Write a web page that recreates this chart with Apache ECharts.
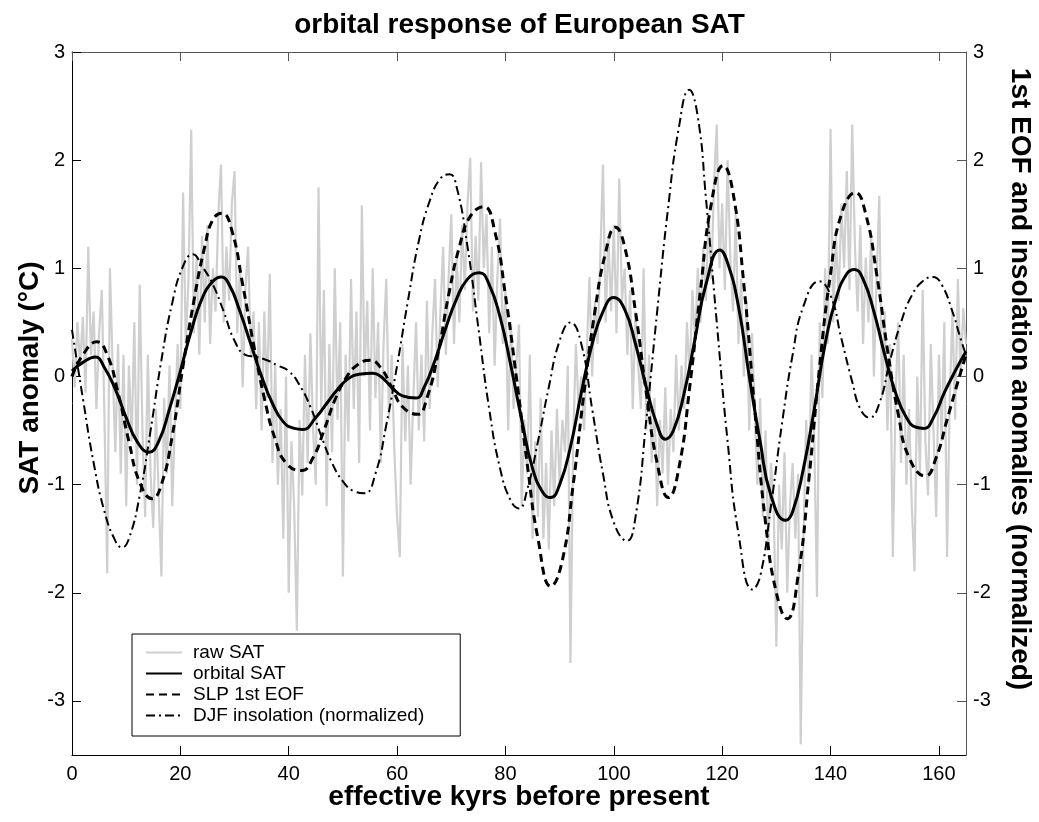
<!DOCTYPE html>
<html><head><meta charset="utf-8">
<script src="https://cdn.jsdelivr.net/npm/echarts@6/dist/echarts.min.js"></script>
<style>html,body{margin:0;padding:0;background:#fff}#c{width:1039px;height:822px}</style>
</head><body><div id="c"></div>
<script>
const xTicks = [0, 20, 40, 60, 80, 100, 120, 140, 160];
const yTicks = [-3, -2, -1, 0, 1, 2, 3];
const rawStep = 0.5; // kyr between raw samples, starting at 0
const rawSAT = [
 0.35,-0.1,0.5,0.1,0.55,-0.15,1.2,0.2,0.6,-0.3,
 0.4,0.8,-0.4,-1.82,1.0,0.1,-0.7,0.3,-0.9,0.2,
 -1.2,0.1,-0.6,0.5,-1.0,0.85,-0.5,-1.3,0.2,-0.9,
 -1.4,-0.3,-1.1,-1.85,-0.2,-0.9,0.1,-1.2,-0.4,0.3,
 -0.3,1.7,0.3,0.9,2.28,0.4,1.1,0.2,1.3,0.5,
 1.4,0.3,1.0,0.6,1.5,1.96,0.5,1.2,0.7,1.6,
 1.9,0.4,1.0,-0.1,0.8,1.2,0.2,0.6,-0.3,0.5,
 -0.5,0.6,-0.2,0.95,-0.8,0.1,-1.0,-0.3,-1.5,0.0,
 -2.0,-0.6,-1.2,-2.35,-0.4,-1.1,0.2,-0.8,0.4,-0.5,
 -1.0,1.75,-0.3,0.8,-1.2,0.3,-0.7,1.0,-0.4,0.5,
 -1.85,0.2,-0.6,0.9,-0.3,0.6,-0.8,1.58,0.0,0.7,
 -0.5,1.0,-0.2,0.5,-0.8,0.3,0.9,-0.4,0.2,-0.7,
 -1.3,-1.67,0.3,-0.6,0.1,-1.0,-0.2,0.5,-0.5,0.2,
 -0.6,0.7,-0.3,0.4,0.9,-0.1,0.6,1.2,0.2,0.9,
 1.5,0.3,1.1,0.5,1.4,0.8,1.6,2.02,0.6,1.3,
 0.7,1.98,1.0,1.5,0.4,1.2,0.1,0.9,1.46,0.3,
 0.8,-0.5,0.5,-0.3,0.1,0.48,-1.2,-0.4,-0.9,0.2,
 -1.5,-0.6,-1.3,-0.2,-1.5,-0.8,-1.6,-0.5,-1.2,-0.3,
 -1.0,-0.4,-0.7,0.1,-2.65,-0.6,0.3,-0.3,0.0,-0.5,
 0.2,0.92,0.0,0.7,0.3,1.1,1.96,0.5,1.3,0.6,
 1.4,0.4,1.83,0.7,1.0,0.2,0.8,-0.3,0.6,0.1,
 -0.3,1.0,-0.5,0.2,-0.8,-0.2,-1.2,-0.4,-0.9,-0.1,
 -1.0,-0.3,-0.7,0.2,-0.5,0.1,-0.3,0.5,0.0,0.8,
 0.3,1.0,0.5,1.2,0.7,1.5,0.9,1.8,2.33,1.0,
 1.6,0.8,2.0,1.1,0.6,1.5,0.3,0.9,0.0,0.7,
 -0.5,0.4,-0.3,-1.0,-0.2,-1.3,-0.5,-1.6,-0.8,-1.2,
 -2.5,-1.0,-1.6,-0.7,-2.0,-1.2,-0.8,-1.5,-0.9,-3.4,
 -1.5,-0.4,-1.0,0.2,-0.6,-2.04,0.5,-0.2,1.0,0.3,
 2.29,0.5,1.3,0.7,1.6,1.0,1.9,0.8,2.33,1.2,
 0.6,1.4,0.3,1.1,0.5,1.3,0.0,0.9,1.67,-0.2,
 0.6,-0.5,0.3,-1.67,-0.2,0.5,-0.8,0.2,-1.0,-0.3,
 -1.2,-1.8,0.0,-0.9,0.8,-0.6,-1.1,0.3,-0.5,-1.3,
 0.2,-0.6,0.5,-1.67,-0.2,0.6,-0.4,0.9,0.0,0.63,
 0.3
];
const orbitalSAT = [
 [0,0.05],[2,0.13],[4.3,0.18],[6,0.08],[8,-0.12],[10,-0.38],[12,-0.6],[14.2,-0.7],[16,-0.6],[18,-0.3],
 [20,0.05],[22,0.42],[24,0.72],[26,0.88],[27.5,0.92],[29,0.85],[31,0.6],[33,0.3],[35,0.0],[37,-0.25],
 [39,-0.42],[41,-0.48],[42.6,-0.49],[45,-0.38],[47,-0.25],[49,-0.12],[51,-0.02],[53,0.02],[55.5,0.03],[57,0.0],
 [59,-0.1],[61,-0.18],[63.5,-0.2],[65,-0.1],[67,0.15],[69,0.45],[71,0.72],[73,0.9],[75.2,0.96],[77,0.85],
 [79,0.55],[81,0.1],[83,-0.4],[85,-0.85],[87,-1.08],[88.3,-1.12],[90,-1.0],[92,-0.65],[94,-0.15],[96,0.3],
 [98,0.6],[100,0.73],[102,0.62],[104,0.3],[106,-0.1],[108,-0.45],[109.5,-0.58],[111,-0.5],[113,-0.15],[115,0.35],
 [117,0.85],[119.6,1.17],[121,1.05],[123,0.65],[125,0.0],[127,-0.6],[129,-1.1],[131.7,-1.33],[133,-1.25],[135,-0.85],
 [137,-0.3],[139,0.3],[141,0.72],[143,0.95],[144.4,0.99],[146,0.9],[148,0.6],[150,0.2],[152,-0.15],[154,-0.38],
 [155.8,-0.47],[157.3,-0.48],[159,-0.38],[161,-0.15],[163,0.05],[165,0.23]
];
const slpEOF = [
 [0,0.0],[2,0.2],[4.6,0.32],[6.5,0.2],[8.5,-0.15],[10.5,-0.6],[12.5,-0.98],[14.8,-1.13],[16.5,-1.0],[18.5,-0.55],
 [20.5,0.1],[22.5,0.7],[24.5,1.2],[26,1.45],[27.7,1.51],[29.5,1.35],[31.5,0.85],[33.5,0.3],[35.5,-0.2],[37.5,-0.58],
 [39.5,-0.8],[42.4,-0.87],[44.5,-0.75],[46.5,-0.5],[48.5,-0.22],[50.5,-0.02],[52.5,0.1],[55,0.15],[57,0.08],[59,-0.1],
 [61,-0.28],[63.8,-0.35],[65.5,-0.2],[67.5,0.2],[69.5,0.75],[71.5,1.2],[73.5,1.48],[76,1.57],[78,1.35],[80,0.75],
 [82,0.0],[84,-0.8],[86,-1.5],[88.4,-1.94],[90.5,-1.7],[92.5,-1.0],[94.5,-0.15],[96.5,0.6],[98.5,1.15],[100.3,1.38],
 [102,1.2],[104,0.6],[106,-0.15],[108,-0.8],[110.1,-1.12],[112,-0.85],[114,-0.1],[116,0.8],[118,1.6],[120.2,1.95],
 [122,1.7],[124,0.85],[126,-0.3],[128,-1.35],[130,-2.0],[132,-2.24],[134,-1.85],[136,-0.95],[138,0.1],[140,0.95],
 [142,1.5],[144.6,1.7],[146.5,1.5],[148.5,0.95],[150.5,0.25],[152.5,-0.35],[154.5,-0.75],[157.5,-0.92],[159.5,-0.75],[161.5,-0.4],
 [163.5,-0.05],[165,0.2]
];
const djfInsolation = [
 [0,0.43],[2,-0.2],[4,-0.8],[6,-1.25],[8,-1.52],[9.2,-1.58],[10.5,-1.5],[12.5,-1.1],[14.5,-0.5],[16.5,0.15],
 [18.5,0.68],[20.5,1.02],[22.3,1.13],[24,1.02],[26,0.85],[28,0.6],[30,0.33],[32,0.2],[34,0.18],[36,0.15],
 [38,0.1],[40,0.05],[42,-0.08],[44,-0.28],[46,-0.55],[48,-0.8],[50,-0.97],[52,-1.06],[54,-1.08],[56,-0.9],
 [58,-0.45],[60,0.1],[62,0.7],[64,1.25],[66,1.62],[68,1.83],[69.7,1.87],[71,1.75],[73,1.2],[75,0.45],
 [77,-0.3],[79,-0.85],[81,-1.15],[82.5,-1.22],[84,-1.05],[86,-0.6],[88,-0.1],[90,0.33],[92,0.5],[94,0.3],
 [96,-0.3],[98,-0.9],[100,-1.35],[102.4,-1.52],[104,-1.3],[106,-0.4],[108,0.6],[110,1.55],[112,2.3],[113.9,2.65],
 [115.5,2.4],[117,1.65],[119,0.5],[121,-0.6],[123,-1.45],[125.6,-1.97],[127,-1.85],[129,-1.2],[131,-0.45],[133,0.2],
 [135,0.65],[137.9,0.88],[140,0.75],[142,0.35],[144,-0.05],[145.5,-0.3],[147.2,-0.38],[149,-0.25],[151,0.15],[153,0.5],
 [155,0.75],[157,0.88],[158.9,0.92],[160.5,0.85],[162.5,0.6],[164,0.35],[165,0.2]
];

const FONT = 'Liberation Sans, Arial, Helvetica, sans-serif';
const rawData = rawSAT.map((v, i) => [i * rawStep, v]);

function xAx(pos, showLabel, color) {
  return {
    type: 'value', min: 0, max: 165, position: pos,
    axisLine: { show: true, onZero: false, lineStyle: { color: color, width: 1 } },
    axisTick: { show: true, inside: true, length: 9, customValues: xTicks, lineStyle: { color: color } },
    axisLabel: { show: showLabel, customValues: xTicks, fontSize: 20, color: '#000', margin: 9, fontFamily: FONT },
    splitLine: { show: false }
  };
}
function yAx(pos, color) {
  return {
    type: 'value', min: -3.5, max: 3, position: pos,
    axisLine: { show: true, onZero: false, lineStyle: { color: color, width: 1 } },
    axisTick: { show: true, inside: true, length: 9, customValues: yTicks, lineStyle: { color: color } },
    axisLabel: { show: true, customValues: yTicks, fontSize: 20, color: '#000', margin: 7, fontFamily: FONT },
    splitLine: { show: false }
  };
}

const chart = echarts.init(document.getElementById('c'), null, { renderer: 'canvas' });
chart.setOption({
  animation: false,
  backgroundColor: '#fff',
  title: {
    text: 'orbital response of European SAT', left: 'center', top: 6,
    textStyle: { fontSize: 28, fontWeight: 'bold', color: '#000', fontFamily: FONT }
  },
  grid: { left: 72, right: 73, top: 52, bottom: 67 },
  xAxis: [xAx('bottom', true, '#000'), xAx('top', false, '#555')],
  yAxis: [yAx('left', '#000'), yAx('right', '#555')],
  legend: {
    orient: 'vertical', left: 132, top: 634,
    data: ['raw SAT', 'orbital SAT', 'SLP 1st EOF', 'DJF insolation (normalized)'],
    itemWidth: 36, itemHeight: 14, itemGap: 2,
    padding: [9, 36, 11, 13],
    borderColor: '#000', borderWidth: 1, backgroundColor: '#fff',
    itemStyle: { opacity: 0 },
    textStyle: { fontSize: 19, lineHeight: 18, color: '#000', fontFamily: FONT, padding: [0, 0, 0, 6] }
  },
  graphic: [
    { type: 'text', x: 519, y: 797, style: { text: 'effective kyrs before present', font: 'bold 28px ' + FONT, align: 'center', verticalAlign: 'middle', fill: '#000' } },
    { type: 'text', x: 30, y: 378, rotation: Math.PI / 2, style: { text: 'SAT anomaly (°C)', font: 'bold 28px ' + FONT, align: 'center', verticalAlign: 'middle', fill: '#000' } },
    { type: 'text', x: 1020, y: 379, rotation: -Math.PI / 2, style: { text: '1st EOF and insolation anomalies (normalized)', font: 'bold 28px ' + FONT, align: 'center', verticalAlign: 'middle', fill: '#000' } }
  ],
  series: [
    { name: 'raw SAT', type: 'line', data: rawData, symbol: 'none', z: 1,
      lineStyle: { color: '#cfcfcf', width: 2.2 }, itemStyle: { color: '#cfcfcf' } },
    { name: 'orbital SAT', type: 'line', data: orbitalSAT, symbol: 'none', smooth: 0.5, z: 5,
      lineStyle: { color: '#000', width: 3 }, itemStyle: { color: '#000' } },
    { name: 'SLP 1st EOF', type: 'line', data: slpEOF, symbol: 'none', smooth: 0.5, z: 4,
      lineStyle: { color: '#000', width: 3, type: [8, 5] }, itemStyle: { color: '#000' } },
    { name: 'DJF insolation (normalized)', type: 'line', data: djfInsolation, symbol: 'none', smooth: 0.5, z: 3,
      lineStyle: { color: '#000', width: 2, type: [9, 4, 2, 4] }, itemStyle: { color: '#000' } }
  ]
});
</script>
</body></html>
